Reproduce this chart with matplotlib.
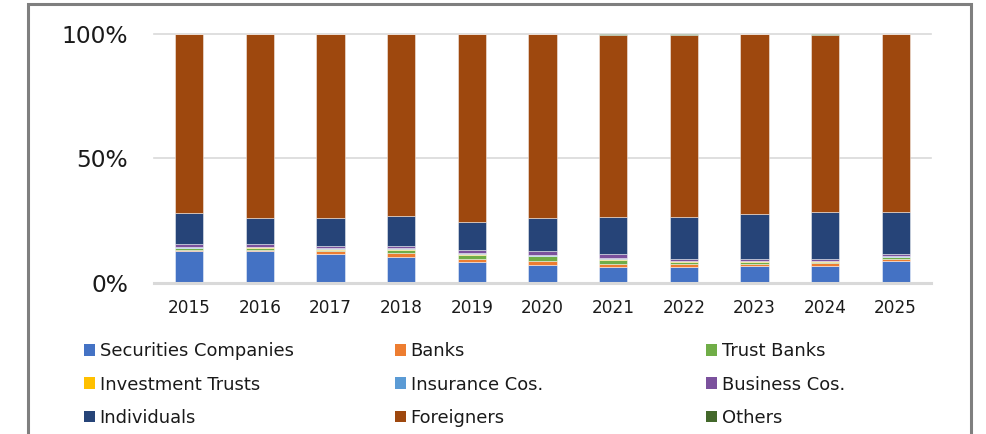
import matplotlib
matplotlib.use("Agg")
import matplotlib.pyplot as plt
from matplotlib.patches import Rectangle
import numpy as np

years = ["2015", "2016", "2017", "2018", "2019", "2020", "2021", "2022", "2023", "2024", "2025"]
securities = [12.6, 12.6, 11.3, 10.2, 8.2, 7.2, 6.4, 6.4, 6.8, 6.8, 8.7]
banks = [0.6, 0.5, 1.3, 1.6, 1.2, 1.6, 1.2, 1.2, 0.7, 1.0, 0.7]
trust_banks = [0.5, 0.7, 0.5, 1.3, 1.6, 1.7, 1.6, 0.8, 0.8, 0.5, 0.9]
investment_trusts = [0.2, 0.3, 0.3, 0.3, 0.5, 0.2, 0.3, 0.2, 0.2, 0.2, 0.1]
insurance = [0.3, 0.3, 0.4, 0.4, 0.4, 0.3, 0.3, 0.2, 0.2, 0.3, 0.1]
business = [1.3, 1.0, 0.8, 0.7, 1.0, 1.5, 1.6, 0.8, 0.8, 0.8, 0.8]
individuals = [12.4, 10.6, 11.2, 12.3, 11.6, 13.4, 14.9, 16.7, 18.0, 18.8, 17.0]
foreigners = [72.0, 73.9, 74.1, 73.1, 75.4, 73.9, 73.4, 73.4, 72.3, 71.3, 71.5]
others = [0.1, 0.1, 0.1, 0.1, 0.1, 0.2, 0.3, 0.3, 0.2, 0.3, 0.2]

series_names = ["Securities Companies", "Banks", "Trust Banks", "Investment Trusts",
                "Insurance Cos.", "Business Cos.", "Individuals", "Foreigners", "Others"]
series_vals = [securities, banks, trust_banks, investment_trusts, insurance,
               business, individuals, foreigners, others]
colors = ["#4472C4", "#ED7D31", "#70AD47", "#FFC000", "#5B9BD5",
          "#7B519D", "#264478", "#9E480E", "#43682B"]

W, H = 987, 434
fig = plt.figure(figsize=(W / 100, H / 100), dpi=100)
ax = fig.add_axes([154 / W, 1 - 282.5 / H, (931 - 154) / W, (282.5 - 34) / H])

x = np.arange(len(years))
bottom = np.zeros(len(years))
for name, vals, c in zip(series_names, series_vals, colors):
    v = np.array(vals) / 100.0
    ax.bar(x, v, width=0.4, bottom=bottom, color=c,
           edgecolor=(1, 1, 1, 0.45), linewidth=0.7, label=name, zorder=3)
    bottom += v

ax.set_xlim(-0.5, len(years) - 0.5)
ax.set_ylim(0, 1)
ax.set_yticks([0, 0.5, 1.0])
ax.set_yticklabels(["0%", "50%", "100%"], fontsize=16.8, color="#1a1a1a")
ax.set_xticks(x)
ax.set_xticklabels(years, fontsize=12.2, color="#1a1a1a")
ax.tick_params(axis="y", length=0, pad=18.5)
ax.tick_params(axis="x", length=0, pad=12)
for s in ax.spines.values():
    s.set_visible(False)
for yv in [0.5, 1.0]:
    ax.axhline(yv, color="#d9d9d9", linewidth=1.2, zorder=1, clip_on=False)
ax.axhline(0, color="#d9d9d9", linewidth=2.2, zorder=4, clip_on=False)

# outer frame
fig.add_artist(Rectangle((28 / W, -0.2), (971 - 28) / W, 1.2 - 4 / H,
                         transform=fig.transFigure, fill=False,
                         edgecolor="#7f7f7f", linewidth=2.2))

# legend in three columns, row-wise order
cols = [[0, 3, 6], [1, 4, 7], [2, 5, 8]]
col_x = [84, 395, 706]
for ci, idxs in enumerate(cols):
    hs = [Rectangle((0, 0), 1, 1, facecolor=colors[i], edgecolor="none") for i in idxs]
    lb = [series_names[i] for i in idxs]
    leg = fig.legend(hs, lb, loc="center left",
                     bbox_to_anchor=(col_x[ci] / W, 1 - 384.5 / H),
                     frameon=False, fontsize=12.9, handlelength=0.62,
                     handleheight=0.62, handletextpad=0.25, borderpad=0,
                     borderaxespad=0, labelspacing=0.86)
    for t in leg.get_texts():
        t.set_color("#1a1a1a")

fig.savefig("out.png", dpi=100)
